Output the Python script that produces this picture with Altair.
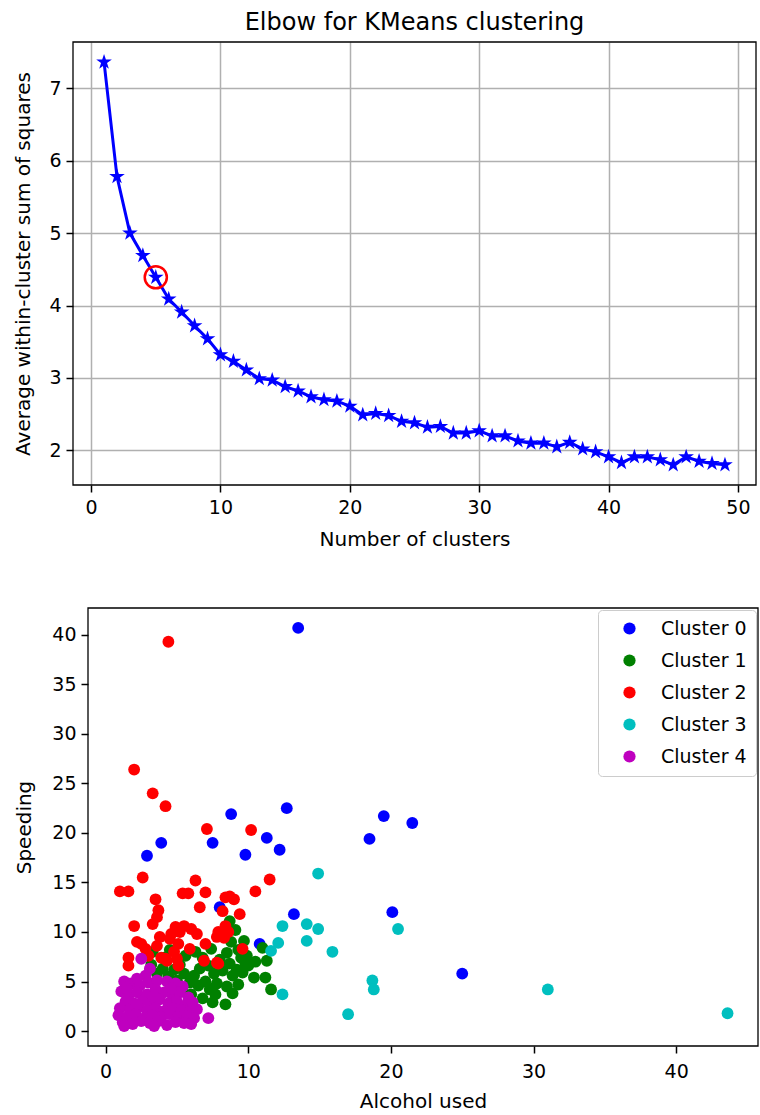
import math
import altair as alt
import pandas as pd

# ---------------- Elbow data ----------------
k_values = list(range(1, 50))
avg_wcss = [7.36, 5.78, 5.00, 4.69, 4.39, 4.09, 3.91, 3.72, 3.54, 3.32,
            3.23, 3.11, 2.99, 2.97, 2.88, 2.82, 2.74, 2.70, 2.68, 2.61,
            2.49, 2.51, 2.48, 2.40, 2.38, 2.32, 2.33, 2.24, 2.24, 2.27,
            2.20, 2.20, 2.13, 2.10, 2.10, 2.05, 2.11, 2.02, 1.98, 1.91,
            1.83, 1.91, 1.91, 1.87, 1.80, 1.91, 1.85, 1.82, 1.80]
elbow_k = 5
top_x_ticks = [0, 10, 20, 30, 40, 50]
top_y_ticks = [2, 3, 4, 5, 6, 7]

# ---------------- Scatter data ----------------
cluster_names = ["Cluster 0", "Cluster 1", "Cluster 2", "Cluster 3", "Cluster 4"]
cluster_colors = ["#0000ff", "#008000", "#ff0000", "#00bfbf", "#bf00bf"]

c0_x = [13.5, 8.8, 12.7, 3.9, 7.5, 11.3, 18.5, 19.5, 21.5, 12.2, 2.9, 9.8, 20.1, 13.2, 25.0, 8.0, 10.8]
c0_y = [40.7, 21.9, 22.5, 19.0, 19.0, 19.5, 19.4, 21.7, 21.0, 18.3, 17.7, 17.8, 12.0, 11.8, 5.8, 12.5, 8.8]

c1_x = [8.7, 9.7, 11.0, 11.3, 11.2, 11.6, 8.4, 7.7, 9.5, 9.8, 9.2, 8.9, 9.6, 10.0, 9.9, 9.3, 8.5, 8.0,
        8.7, 8.2, 7.6, 7.2, 6.8, 6.6, 6.2, 7.0, 7.8, 8.5, 7.3, 6.5, 5.9, 5.5, 5.2, 4.8, 4.4, 5.0, 4.0,
        3.6, 3.2, 4.1, 5.6, 6.3, 7.4, 8.8, 9.1, 6.0, 6.8, 7.5, 5.4, 8.9, 9.3, 10.4, 10.5, 4.5, 3.3]
c1_y = [11.1, 9.1, 8.4, 7.1, 5.4, 4.2, 2.7, 3.7, 7.4, 6.8, 6.2, 5.6, 5.9, 6.6, 7.6, 8.2, 7.9, 7.2,
        6.8, 6.1, 5.8, 6.6, 7.4, 6.3, 5.6, 5.0, 4.8, 4.5, 4.2, 4.6, 4.9, 5.8, 6.7, 6.2, 5.5, 5.1, 6.3,
        5.8, 6.7, 7.4, 7.6, 8.0, 8.3, 9.0, 10.2, 3.7, 3.3, 2.9, 4.1, 3.8, 4.7, 5.4, 7.0, 8.2, 8.0]

c2_x = [4.4, 2.0, 3.3, 4.2, 7.1, 10.2, 2.6, 11.5, 1.0, 1.6, 6.3, 5.4, 5.8, 7.0, 10.5, 3.5, 8.4, 9.0,
        8.7, 6.6, 3.7, 3.6, 8.2, 9.4, 2.0, 3.3, 4.9, 5.5, 5.2, 4.6, 6.4, 7.9, 8.6, 8.3, 2.5, 3.8, 3.6,
        5.1, 4.8, 7.0, 7.8, 9.6, 1.6, 1.6, 4.3, 3.9, 5.0, 6.9, 7.9, 2.2, 5.9, 4.5, 6.0, 8.4, 3.0, 2.8,
        4.2, 5.1, 7.8]
c2_y = [39.3, 26.4, 24.0, 22.7, 20.4, 20.3, 15.5, 15.3, 14.1, 14.1, 15.2, 13.9, 13.9, 14.0, 14.1, 13.3, 13.5, 13.3,
        13.6, 12.5, 12.2, 11.5, 12.1, 11.8, 10.6, 10.8, 10.5, 10.6, 10.0, 9.8, 9.8, 10.0, 10.0, 9.4, 8.8, 9.5, 8.6,
        8.8, 8.0, 8.8, 9.5, 8.3, 7.4, 6.6, 7.1, 7.4, 7.3, 7.1, 6.8, 9.0, 8.3, 9.3, 10.3, 10.6, 7.6, 8.3,
        7.3, 6.6, 6.9]

c3_x = [14.9, 20.5, 12.4, 14.1, 14.9, 14.1, 15.9, 12.1, 11.6, 12.4, 18.7, 18.8, 17.0, 31.0, 43.6]
c3_y = [15.9, 10.3, 10.6, 10.8, 10.3, 9.1, 8.0, 8.9, 8.1, 3.7, 5.1, 4.2, 1.7, 4.2, 1.8]

c4_x = [2.5, 3.1, 2.8, 1.3, 1.8, 2.4, 3.0, 3.6, 4.3, 4.9, 5.4, 1.1, 1.6, 2.2, 2.9, 3.5, 4.1, 4.7, 5.2,
        5.8, 1.4, 2.0, 2.6, 3.2, 3.8, 4.4, 5.0, 5.6, 6.1, 1.0, 1.7, 2.3, 2.9, 3.5, 4.1, 4.7, 5.3, 5.9,
        6.4, 0.9, 1.5, 2.1, 2.7, 3.3, 3.9, 4.5, 5.1, 5.7, 6.2, 1.2, 1.9, 2.5, 3.1, 3.7, 4.3, 4.9, 5.5,
        7.2, 1.3, 3.4, 6.0, 2.2, 1.5, 4.6, 3.3]
c4_y = [7.3, 6.3, 5.6, 5.0, 4.8, 4.6, 4.9, 5.1, 5.0, 4.8, 4.5, 4.0, 3.6, 3.9, 3.7, 4.2, 3.9, 3.6, 3.9,
        3.4, 3.0, 2.8, 3.1, 2.9, 3.2, 2.8, 3.0, 2.6, 2.9, 2.3, 2.1, 2.4, 2.1, 2.3, 2.0, 2.3, 2.1, 1.9,
        2.2, 1.6, 1.4, 1.7, 1.3, 1.6, 1.4, 1.7, 1.4, 1.5, 1.3, 0.9, 0.7, 1.0, 0.8, 1.0, 0.6, 0.9, 0.8,
        1.3, 0.5, 0.5, 0.7, 5.3, 4.3, 4.3, 3.5]

bottom_x_ticks = [0, 10, 20, 30, 40]
bottom_y_ticks = [0, 5, 10, 15, 20, 25, 30, 35, 40]

FONT = "DejaVu Sans"

# panel geometry (pixels)
TOP_W, TOP_H = 683, 443
BOT_SHIFT, BOT_W, BOT_H = 15, 685, 438

# star symbol path (unit coordinates)
pts = []
for i in range(10):
    ang = math.radians(-90 + 36 * i)
    r = 1.0 if i % 2 == 0 else 0.382
    pts.append(f"{r*math.cos(ang):.4f},{r*math.sin(ang):.4f}")
star_path = "M" + "L".join(pts) + "Z"

elbow_df = pd.DataFrame({"k": k_values, "wcss": avg_wcss})
mark_df = pd.DataFrame({"k": [elbow_k], "wcss": [avg_wcss[elbow_k - 1]]})
one_row = pd.DataFrame({"v": [0]})

x_top = alt.X("k:Q",
              scale=alt.Scale(domain=[-1.4, 51.4], nice=False, zero=False),
              axis=alt.Axis(values=top_x_ticks, title="Number of clusters", grid=True,
                            format="d", labelPadding=6, titlePadding=12))
y_top = alt.Y("wcss:Q",
              scale=alt.Scale(domain=[1.522, 7.638], nice=False, zero=False),
              axis=alt.Axis(values=top_y_ticks, title="Average within-cluster sum of squares",
                            grid=True, format="d", minExtent=35, maxExtent=35, titlePadding=5))

line = alt.Chart(elbow_df).mark_line(color="#0000ff", strokeWidth=3).encode(x=x_top, y=y_top)
stars = alt.Chart(elbow_df).mark_point(shape=star_path, filled=True, color="#0000ff",
                                       size=270, opacity=1).encode(x=x_top, y=y_top)
ring = alt.Chart(mark_df).mark_point(shape="circle", filled=False, color="#ff0000",
                                     size=490, strokeWidth=2.5, opacity=1).encode(x="k:Q", y="wcss:Q")
top_frame = alt.Chart(one_row).mark_rect(fillOpacity=0, stroke="#000", strokeWidth=1.3).encode(
    x=alt.value(0), x2=alt.value(TOP_W), y=alt.value(0), y2=alt.value(TOP_H))

top = alt.layer(line, stars, ring, top_frame).properties(
    width=TOP_W, height=TOP_H,
    title=alt.TitleParams("Elbow for KMeans clustering", fontSize=24, font=FONT,
                          fontWeight="normal", color="#000", offset=6, anchor="middle"))

rows = []
for name, xs, ys in zip(cluster_names, [c0_x, c1_x, c2_x, c3_x, c4_x], [c0_y, c1_y, c2_y, c3_y, c4_y]):
    for a, b in zip(xs, ys):
        rows.append({"alcohol": a, "speeding": b, "cluster": name})
scatter_df = pd.DataFrame(rows)

points = alt.Chart(scatter_df).mark_circle(size=140, opacity=1).encode(
    x=alt.X("alcohol:Q",
            scale=alt.Scale(domain=[-1.235, 45.735], nice=False, zero=False,
                            range=[BOT_SHIFT, BOT_W]),
            axis=alt.Axis(values=bottom_x_ticks, title="Alcohol used", grid=False, format="d",
                          labelPadding=9, titlePadding=10)),
    y=alt.Y("speeding:Q", scale=alt.Scale(domain=[-1.51, 42.71], nice=False, zero=False),
            axis=alt.Axis(values=bottom_y_ticks, title="Speeding", grid=False, format="d",
                          minExtent=49, maxExtent=49, titlePadding=5, offset=-BOT_SHIFT)),
    color=alt.Color("cluster:N", scale=alt.Scale(domain=cluster_names, range=cluster_colors),
                    legend=alt.Legend(orient="top-right", title=None, offset=2, padding=9,
                                      cornerRadius=4, strokeColor="#cccccc", fillColor="white",
                                      symbolSize=150, symbolOffset=13, labelOffset=22,
                                      rowPadding=12, labelFontSize=19, labelFont=FONT,
                                      labelColor="#000", symbolType="circle")),
)
bottom_frame = alt.Chart(one_row).mark_rect(fillOpacity=0, stroke="#000", strokeWidth=1.3).encode(
    x=alt.value(BOT_SHIFT), x2=alt.value(BOT_W), y=alt.value(0), y2=alt.value(BOT_H))

bottom = alt.layer(points, bottom_frame).properties(width=BOT_W, height=BOT_H)

chart = alt.vconcat(top, bottom, spacing=58).resolve_scale(
    color="independent"
).resolve_legend(color="independent").properties(
    padding={"left": 13, "top": 11, "right": 0, "bottom": 0}
).configure_view(stroke=None).configure_axis(
    labelFont=FONT, titleFont=FONT, labelFontSize=19, titleFontSize=20,
    labelColor="#000", titleColor="#000", titleFontWeight="normal",
    tickColor="#000", tickSize=7, tickWidth=1.5, labelPadding=5,
    domain=False, gridColor="#b0b0b0", gridWidth=1.5
)

chart.save("out.html", embed_options={"renderer": "svg", "actions": False})
